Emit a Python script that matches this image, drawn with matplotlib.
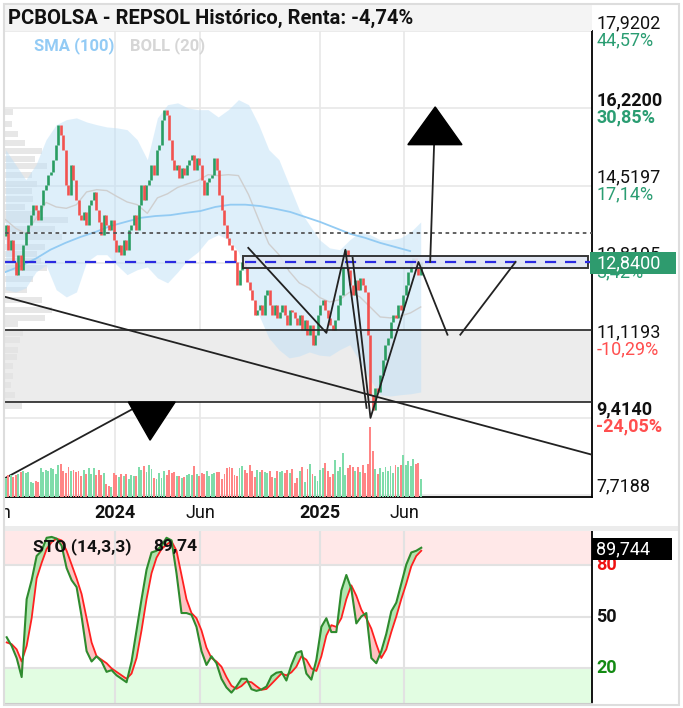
import numpy as np
import pandas as pd
import matplotlib
matplotlib.use("Agg")
import matplotlib.pyplot as plt
import matplotlib.dates as mdates
from matplotlib import transforms
from matplotlib.patches import Rectangle, Polygon

plt.rcParams["font.family"] = ["Roboto", "DejaVu Sans"]

# ---------------------------------------------------------------------------
# Datos
# ---------------------------------------------------------------------------
TITLE = "PCBOLSA - REPSOL Histórico, Renta: -4,74%"

FIRST_OPEN = 13.40
CLOSE = [13.66, 13.11, 13.33, 12.84, 12.56, 13.00, 12.67, 13.22, 13.50, 13.66,
         13.88, 14.10, 13.99, 13.77, 14.10, 14.43, 14.54, 14.76, 14.82, 15.09,
         15.42, 15.86, 15.64, 15.31, 14.54, 14.32, 14.98, 14.65, 14.21, 13.88,
         13.77, 13.94, 13.66, 14.10, 14.21, 14.38, 13.99, 13.72, 13.44, 13.88,
         13.66, 13.55, 13.77, 13.33, 13.06, 13.22, 13.00, 13.33, 13.11, 13.55,
         13.66, 13.88, 13.55, 14.10, 14.54, 14.21, 14.54, 14.65, 14.98, 14.76,
         15.31, 15.42, 15.97, 16.19, 16.08, 15.53, 15.09, 14.87, 14.98, 14.69,
         14.91, 14.76, 14.98, 15.09, 15.20, 14.87, 15.13, 14.98, 14.65, 14.32,
         14.60, 14.69, 14.76, 15.13, 14.87, 14.32, 13.99, 13.66, 13.37, 13.22,
         13.11, 12.84, 12.34, 12.67, 12.84, 12.71, 12.40, 12.23, 12.01, 11.68,
         11.79, 11.90, 11.68, 12.12, 12.23, 11.90, 11.68, 11.90, 11.61, 11.74,
         11.90, 11.68, 11.46, 11.79, 11.74, 11.61, 11.46, 11.68, 11.35, 11.57,
         11.24, 11.46, 11.02, 11.24, 11.68, 11.90, 12.01, 11.79, 11.61, 11.46,
         11.35, 11.57, 11.90, 12.12, 12.78, 13.11, 12.67, 12.34, 12.12, 12.45,
         12.23, 12.49, 12.34, 12.18, 11.24, 9.92, 9.59, 10.07, 9.98, 10.36,
         10.69, 11.02, 11.17, 11.52, 11.68, 11.61, 11.90, 11.79, 12.12, 12.34,
         12.62, 12.84, 12.93, 12.71, 12.56, 12.84]

VOLUME = [5.2, 5.9, 6.1, 5.5, 6.0, 6.4,
          6.8, 7.0, 6.5, 6.9, 4.1, 3.9, 4.3, 4.0,
          7.8, 6.9, 7.4, 7.1, 8.0, 7.6,
          6.2, 8.6, 8.9, 7.0, 6.6, 8.3,
          7.2, 7.4, 6.8, 7.2, 5.6, 7.5,
          6.2, 7.9, 6.4, 7.8, 6.1, 7.3,
          5.9, 6.6, 3.6, 3.0, 2.8, 6.5,
          6.0, 5.4, 6.3, 5.8, 6.2, 4.9,
          6.0, 5.8, 5.7, 8.1, 7.4, 8.5,
          6.8, 8.7, 7.6, 5.3, 4.8, 6.5,
          5.3, 7.2, 6.1, 7.3, 6.5, 6.9,
          5.6, 5.8, 5.1, 5.4, 5.9, 6.2,
          6.0, 8.5, 6.2, 5.8, 6.6, 6.4,
          7.0, 5.7, 6.3, 6.5, 6.9, 6.7,
          5.0, 6.2, 7.8, 8.1, 7.9, 6.0,
          5.8, 8.0, 8.4, 7.5, 6.6, 8.7,
          7.1, 5.4, 7.3, 6.9, 7.4, 6.8,
          6.5, 7.2, 5.5, 5.3, 7.0, 6.9,
          7.1, 6.6, 7.3, 6.5, 7.6, 3.8,
          5.2, 7.0, 8.3, 4.2, 7.6, 9.0,
          6.4, 5.7, 4.3, 7.5, 8.0, 9.2,
          7.0, 5.5, 6.2, 10.2, 7.2, 8.1,
          11.9, 6.0, 8.0, 8.7, 8.3, 7.0,
          8.1, 6.9, 8.6, 6.6, 9.0, 19.2,
          12.5, 7.7, 6.3, 7.8, 6.7, 8.3,
          7.1, 8.5, 6.5, 8.7, 8.3, 8.6,
          11.5, 8.8, 9.9, 8.4, 10.5, 8.9,
          9.3, 5.0]

BOLL_UP = [15.31, 14.98, 14.65, 14.98, 15.53, 15.86, 15.97, 16.01, 15.92, 15.86,
           15.81, 15.79, 15.75, 15.53, 15.09, 16.01, 16.30, 16.34, 16.23, 16.19,
           16.19, 16.03, 16.19, 16.41, 16.30, 15.86, 15.31, 15.09, 14.54, 13.99,
           13.66, 13.33, 13.15, 13.11, 13.33, 13.50, 13.44, 13.33, 13.33, 13.37,
           13.50, 13.72]
BOLL_LO = [12.23, 12.18, 12.27, 12.62, 12.77, 12.23, 12.07, 12.18, 12.84, 13.00,
           13.00, 12.77, 12.56, 12.67, 12.73, 12.49, 12.38, 12.62, 12.89, 13.06,
           13.33, 13.44, 13.33, 13.06, 12.34, 11.68, 11.17, 10.91, 10.73, 10.77,
           10.86, 10.79, 10.77, 10.91, 11.02, 10.64, 10.25, 9.92, 9.89, 9.92,
           9.94, 9.98]
BOLL_MID = [13.77, 13.58, 13.46, 13.80, 14.15, 14.05, 14.02, 14.10, 14.38, 14.43,
            14.41, 14.28, 14.16, 14.10, 13.91, 14.25, 14.34, 14.48, 14.56, 14.63,
            14.76, 14.74, 14.76, 14.74, 14.32, 13.77, 13.24, 13.00, 12.64, 12.38,
            12.26, 12.06, 11.96, 12.01, 12.18, 12.07, 11.85, 11.63, 11.61, 11.65,
            11.72, 11.85]

SMA100 = [12.62, 12.75, 12.91, 13.11, 13.26, 13.39, 13.50, 13.63, 13.72, 13.81,
          13.85, 13.87, 13.92, 13.96, 14.05, 14.10, 14.10, 14.07, 14.01, 13.94,
          13.83, 13.72, 13.59, 13.46, 13.37, 13.26, 13.17, 13.08]

# perfil de volumen (precio, volumen relativo)
PROF_PRICE = [16.14, 15.88, 15.66, 15.46, 15.28, 15.11, 14.95, 14.76, 14.56, 14.40,
              14.23, 14.05, 13.90, 13.77, 13.57, 13.39, 13.17, 13.02, 12.86, 12.71,
              12.47, 12.23, 12.01, 11.79, 11.61, 11.48, 11.28, 11.13, 10.91, 10.75,
              10.55, 10.33, 10.14, 9.92, 9.67]
PROF_VOL = [8, 7, 13, 20, 37, 30, 42, 27, 32, 27,
            28, 20, 35, 63, 50, 57, 40, 32, 36, 42,
            28, 22, 37, 47, 40, 13, 18, 15, 13, 12,
            8, 8, 6, 10, 17]

STO_K = [38, 33, 26, 15, 60, 71, 85, 88, 95.5, 96,
         95, 91, 78, 71, 67, 50, 30, 24, 27, 24,
         18, 19, 16, 14, 12, 24, 42, 60, 77, 87,
         88, 91, 95.5, 94, 75, 52, 52, 51, 44, 30,
         22, 27, 23, 14, 9, 6, 9.5, 14, 14, 8,
         7, 7.8, 9.5, 15.5, 17.5, 18, 13, 22, 29, 30,
         17, 13.5, 25, 44, 49, 41, 41, 65, 74, 66,
         46, 50, 52, 26, 23, 30, 40, 53, 58, 69,
         80, 87, 88, 89.74]
STO_D = [35, 34, 31, 24, 33, 49, 72, 81, 89, 93,
         95, 94, 88, 80, 72, 63, 49, 35, 27, 25,
         23, 20, 18, 16, 14, 17, 26, 42, 60, 75,
         84, 89, 91.5, 93.5, 88, 74, 60, 52, 49, 42,
         32, 26, 24, 21, 15, 10, 8.2, 9.8, 12.5, 12,
         9.7, 7.6, 8.1, 11, 14, 17, 16, 17.7, 21, 27,
         25, 20, 18.5, 27, 39, 45, 44, 49, 60, 68,
         62, 54, 49, 43, 34, 26, 31, 41, 50, 60,
         69, 79, 85, 88]

PRICE_TICKS = [17.9202, 16.2200, 14.5197, 12.8195, 11.1193, 9.4140, 7.7188]
PRICE_LABELS = ["17,9202", "16,2200", "14,5197", "12,8195", "11,1193", "9,4140", "7,7188"]
PCT_LABELS = ["44,57%", "30,85%", "17,14%", "3,42%", "-10,29%", "-24,05%", ""]
BOLD_TICK = [False, True, False, False, False, True, False]
LAST_PRICE = 12.84
LAST_LABEL = "12,8400"

GRID_DATES = ["2024-01-01", "2024-06-01", "2025-01-01", "2025-06-01"]
XLABELS = [("2023-06-01", "Jun", False), ("2024-01-01", "2024", True),
           ("2024-06-01", "Jun", False), ("2025-01-01", "2025", True),
           ("2025-06-01", "Jun", False)]

# dibujos del usuario (fecha, precio)
DOTTED_LEVEL = 13.48
RESIST_LO, RESIST_HI = 9.77, 11.35
BOX = ("2024-08-17", "2026-04-27", 12.71, 12.97)
TREND_DOWN = [("2023-06-18", 12.07), ("2026-05-04", 8.60)]
TREND_UP = [("2023-06-18", 8.09), ("2024-02-15", 9.70)]
ZIGZAG_1 = [("2024-08-26", 13.15), ("2025-01-13", 11.28), ("2025-02-16", 13.11), ("2025-03-26", 9.63)]
ZIGZAG_2 = [("2025-03-01", 12.93), ("2025-04-02", 9.41), ("2025-06-27", 12.84), ("2025-08-18", 11.24)]
ZIGZAG_3 = [("2025-09-10", 11.24), ("2025-12-18", 12.84)]
ARROW_STEM = [("2025-07-18", 12.84), ("2025-07-25", 15.42)]
TRI_UP = [("2025-06-08", 15.42), ("2025-09-13", 15.42), ("2025-07-27", 16.25)]
TRI_DOWN = [("2024-01-24", 9.76), ("2024-04-17", 9.76), ("2024-03-03", 8.92)]

# ---------------------------------------------------------------------------
# Colores
# ---------------------------------------------------------------------------
C_UP = "#2a9d62"
C_DN = "#f2524f"
C_VUP = "#7fdcaa"
C_VDN = "#ff8585"
C_TXT_G = "#2a9d72"
C_TXT_R = "#ff4f4f"
C_GRID = "#e8e8e8"

W, H = 683, 708


def fr(x0, y0, x1, y1):
    return [x0 / W, 1 - y1 / H, (x1 - x0) / W, (y1 - y0) / H]


def pts(seq):
    return [(mdates.date2num(pd.Timestamp(d)), v) for d, v in seq]


fig = plt.figure(figsize=(W / 100, H / 100), dpi=100)
fig.patch.set_facecolor("white")

ax = fig.add_axes(fr(5, 31, 592, 497))
ax_vol = fig.add_axes(fr(5, 420, 592, 497))
ax_sto = fig.add_axes(fr(5, 530, 592, 703))

XMIN, XMAX = pd.Timestamp("2023-06-17"), pd.Timestamp("2026-05-04")

# ---------------------------------------------------------------------------
# Panel principal
# ---------------------------------------------------------------------------
close = np.array(CLOSE)
open_ = np.r_[FIRST_OPEN, close[:-1]]
dates = pd.date_range("2023-06-18", "2025-07-01", periods=len(close))
up = close >= open_
lo = np.minimum(open_, close)
hi = np.maximum(open_, close)

for v in PRICE_TICKS:
    ax.axhline(v, color=C_GRID, lw=1.2, zorder=0)
for d in GRID_DATES:
    ax.axvline(pd.Timestamp(d), color=C_GRID, lw=1.2, zorder=0)

ax.axhspan(RESIST_LO, RESIST_HI, color="#ececec", zorder=0.5, lw=0)

ax.vlines(dates[up], lo[up], hi[up], color=C_UP, lw=1.9, zorder=4)
ax.vlines(dates[~up], lo[~up], hi[~up], color=C_DN, lw=1.9, zorder=4)

blend = transforms.blended_transform_factory(ax.transAxes, ax.transData)
ax.barh(PROF_PRICE, np.array(PROF_VOL) / 587.0, height=0.13, left=0,
        color="#e2e2e2", alpha=0.8, transform=blend, zorder=1)

bdates = pd.date_range("2023-06-18", "2025-07-01", periods=len(BOLL_UP))
ax.fill_between(bdates, BOLL_LO, BOLL_UP, color="#bfe0f7", alpha=0.5, lw=0, zorder=2)
ax.plot(bdates, BOLL_MID, color="#cfcfcf", lw=1.0, zorder=3)
sdates = pd.date_range("2023-06-18", "2025-06-12", periods=len(SMA100))
ax.plot(sdates, SMA100, color="#93cbf3", lw=1.3, zorder=3)

ax.axhline(DOTTED_LEVEL, color="#555555", lw=1.3, ls=(0, (2, 2)), zorder=5)
ax.axhline(RESIST_HI, color="#222222", lw=1.2, zorder=5)
ax.axhline(RESIST_LO, color="#222222", lw=1.2, zorder=5)

bx0, bx1 = pd.Timestamp(BOX[0]), pd.Timestamp(BOX[1])
ax.add_patch(Rectangle((mdates.date2num(bx0), BOX[2]),
                       mdates.date2num(bx1) - mdates.date2num(bx0), BOX[3] - BOX[2],
                       fc="#dfe5f2", ec="#222222", lw=1.4, alpha=0.9, zorder=5))
ax.axhline(LAST_PRICE, color="#2a2ae0", lw=1.6, ls=(0, (5, 4)), zorder=6)

for seq in [TREND_DOWN, TREND_UP, ZIGZAG_1, ZIGZAG_2, ZIGZAG_3, ARROW_STEM]:
    p = np.array(pts(seq))
    ax.plot(p[:, 0], p[:, 1], color="#222222", lw=1.3, zorder=6)
for tri in [TRI_UP, TRI_DOWN]:
    ax.add_patch(Polygon(pts(tri), closed=True, fc="black", ec="black", zorder=7))

ax.set_xlim(XMIN, XMAX)
ax.set_ylim(7.670, 17.9202)
ax.set_xticks([])
ax.set_yticks([])
for s in ["top", "left"]:
    ax.spines[s].set_visible(False)
for s in ["right", "bottom"]:
    ax.spines[s].set_color("black")
    ax.spines[s].set_linewidth(1.3)

for v, num, pct, bold in zip(PRICE_TICKS, PRICE_LABELS, PCT_LABELS, BOLD_TICK):
    fw = "bold" if bold else "normal"
    ax.annotate(num, xy=(1, v), xycoords=("axes fraction", "data"), xytext=(3, 5.8),
                textcoords="offset points", va="center", ha="left", fontsize=13,
                fontweight=fw, color="#111111", annotation_clip=False)
    if pct:
        col = C_TXT_R if pct.startswith("-") else C_TXT_G
        ax.annotate(pct, xy=(1, v), xycoords=("axes fraction", "data"), xytext=(3, -6.5),
                    textcoords="offset points", va="center", ha="left", fontsize=13,
                    fontweight=fw, color=col, annotation_clip=False)

# volumen
vcol = np.where(up, C_VUP, C_VDN)
ax_vol.bar(dates, VOLUME, width=3.4, color=vcol, lw=0)
ax_vol.set_xlim(XMIN, XMAX)
ax_vol.set_ylim(0, 21)
ax_vol.axis("off")
ax_vol.patch.set_visible(False)

# etiquetas eje x
clip = transforms.TransformedBbox(transforms.Bbox([[5 / W, 0], [592 / W, 1]]), fig.transFigure)
xblend = transforms.blended_transform_factory(ax.transData, fig.transFigure)
for d, txt, bold in XLABELS:
    t = ax.text(pd.Timestamp(d), 1 - 513 / H, txt, transform=xblend, ha="center", va="center",
                fontsize=13, fontweight="bold" if bold else "normal", color="#111111")
    t.set_clip_box(clip)
    t.set_clip_on(True)

# ---------------------------------------------------------------------------
# Estocástico
# ---------------------------------------------------------------------------
stdates = pd.date_range("2023-06-20", "2025-07-02", periods=len(STO_K))
k = np.array(STO_K)
dd = np.array(STO_D)
ax_sto.axhspan(80, 100, color="#ffe8e8", lw=0, zorder=0)
ax_sto.axhspan(0, 20, color="#e2fde2", lw=0, zorder=0)
for v in [20, 50, 80]:
    ax_sto.axhline(v, color="#e2e2e2", lw=1.5, zorder=0.5)
for d in GRID_DATES:
    ax_sto.axvline(pd.Timestamp(d), color="#e2e2e2", lw=1.5, zorder=0.5)
ax_sto.fill_between(stdates, k, dd, where=k >= dd, interpolate=True, color="#9fe29f", alpha=0.8, lw=0, zorder=1)
ax_sto.fill_between(stdates, k, dd, where=k < dd, interpolate=True, color="#ffb3b3", alpha=0.8, lw=0, zorder=1)
ax_sto.plot(stdates, dd, color="#ff2020", lw=1.3, zorder=2)
ax_sto.plot(stdates, k, color="#2e8b2e", lw=1.5, zorder=3)
ax_sto.set_xlim(XMIN, XMAX)
ax_sto.set_ylim(0, 100)
ax_sto.set_xticks([])
ax_sto.set_yticks([])
for s in ["top", "left"]:
    ax_sto.spines[s].set_visible(False)
ax_sto.spines["right"].set_color("black")
ax_sto.spines["right"].set_linewidth(1.3)
ax_sto.spines["bottom"].set_color("#cccccc")
for v, col in [(80, "#ee1111"), (50, "#111111"), (20, "#138a13")]:
    ax_sto.annotate(str(v), xy=(1, v), xycoords=("axes fraction", "data"), xytext=(3, 0),
                    textcoords="offset points", va="center", ha="left", fontsize=13,
                    fontweight="bold", color=col, annotation_clip=False)

# ---------------------------------------------------------------------------
# Marco, título, leyendas, etiquetas de precio
# ---------------------------------------------------------------------------
fig.add_artist(Rectangle((5 / W, 1 - 31 / H), 587 / W, 26 / H, fc="#f4f4f4", ec="none",
                         transform=fig.transFigure, zorder=1))
fig.add_artist(Rectangle((5 / W, 1 - 531 / H), 674 / W, 5 / H, fc="#ececec", ec="none",
                         transform=fig.transFigure, zorder=1))
fig.add_artist(Rectangle((4 / W, 3 / H), 675 / W, 701 / H, fill=False, ec="#dddddd", lw=1.5,
                         transform=fig.transFigure, zorder=1))
fig.text(8 / W, 1 - 18 / H, TITLE, fontsize=14.5, fontweight="bold", color="#111111",
         va="center", ha="left", zorder=3)
fig.text(34 / W, 1 - 46 / H, "SMA (100)", fontsize=12, fontweight="bold", color="#93cbf5",
         va="center", ha="left")
fig.text(130 / W, 1 - 46 / H, "BOLL (20)", fontsize=12, fontweight="bold", color="#d6d6d6",
         va="center", ha="left")

fig.add_artist(Rectangle((590 / W, 1 - 274 / H), 86 / W, 22 / H, fc="#2e9b6e", ec="none",
                         transform=fig.transFigure, zorder=5))
fig.text(596 / W, 1 - 263 / H, LAST_LABEL, fontsize=13, color="white", va="center",
         ha="left", zorder=6)

fig.text(33 / W, 1 - 547 / H, "STO (14,3,3)", fontsize=12.5, fontweight="bold", color="#111111",
         va="center", ha="left", zorder=6)
fig.text(153 / W, 1 - 547 / H, f"{STO_K[-1]:.2f}".replace(".", ","), fontsize=12.5,
         fontweight="bold", color="#111111", va="center", ha="left", zorder=6)
fig.add_artist(Rectangle((592 / W, 1 - 560 / H), 80 / W, 22 / H, fc="black", ec="none",
                         transform=fig.transFigure, zorder=5))
fig.text(596 / W, 1 - 549 / H, "89,744", fontsize=13, color="white", va="center",
         ha="left", zorder=6)

fig.savefig("out.png", dpi=100)
